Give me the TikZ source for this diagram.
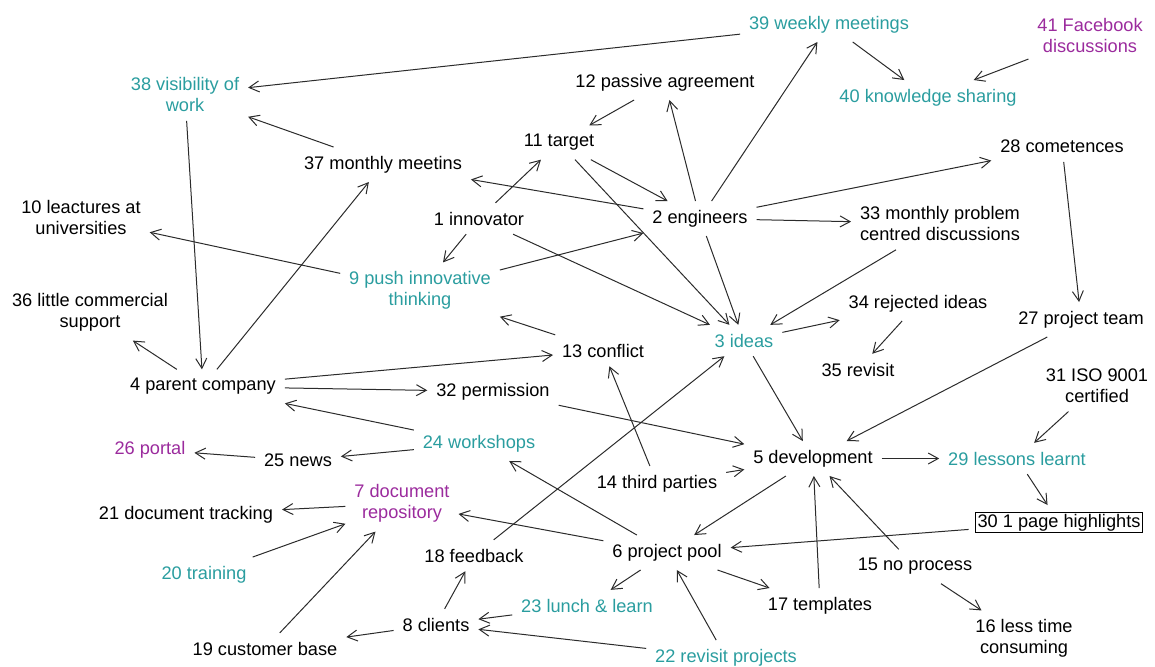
\documentclass[tikz,border=0pt]{standalone}
\usepackage{fontspec}
\setmainfont{Liberation Sans}
\usetikzlibrary{arrows.meta}
\definecolor{grpTeal}{HTML}{2A9D9F}
\definecolor{grpPurple}{HTML}{9B2B9D}
\definecolor{edgeline}{HTML}{2B2B2B}

\begin{document}
\begin{tikzpicture}[x=0.5pt,y=-0.5pt,font=\fontsize{9.1}{10.6}\selectfont,
concept/.style={text=#1,inner sep=1pt,outer sep=3.5pt,align=center},
concept/.default=black,
arrow/.style={-{Straight Barb[length=5pt,width=5.5pt]},line width=.5pt,draw=edgeline}]
\useasboundingbox (0,-2.5) rectangle (1155,663.5);
\node[concept=grpTeal] (n39) at (829,22) {39 weekly meetings};
\node[concept=grpPurple] (n41) at (1090,33) {41 Facebook\\discussions};
\node[concept=grpTeal] (n38) at (185,92) {38 visibility of\\work};
\node[concept] (n12) at (665,80) {12 passive agreement};
\node[concept=grpTeal] (n40) at (928,95) {40 knowledge sharing};
\node[concept] (n11) at (559,140) {11 target};
\node[concept] (n28) at (1062,144) {28 cometences};
\node[concept] (n37) at (383,162) {37 monthly meetins};
\node[concept] (n10) at (81,215) {10 leactures at\\universities};
\node[concept] (n1) at (479,216) {1 innovator};
\node[concept] (n2) at (700,216) {2 engineers};
\node[concept] (n33) at (940,221) {33 monthly problem\\centred discussions};
\node[concept=grpTeal] (n9) at (420,288) {9 push innovative\\thinking};
\node[concept] (n36) at (90,310) {36 little commercial\\support};
\node[concept] (n34) at (918,301) {34 rejected ideas};
\node[concept] (n27) at (1081,317) {27 project team};
\node[concept=grpTeal] (n3) at (744,338) {3 ideas};
\node[concept] (n13) at (603,348) {13 conflict};
\node[concept] (n35) at (858,367) {35 revisit};
\node[concept] (n31) at (1097,383) {31 ISO 9001\\certified};
\node[concept] (n4) at (203,384) {4 parent company};
\node[concept] (n32) at (493,389) {32 permission};
\node[concept=grpTeal] (n24) at (479,441) {24 workshops};
\node[concept=grpPurple] (n26) at (150,447) {26 portal};
\node[concept] (n25) at (298,458) {25 news};
\node[concept] (n5) at (813,456) {5 development};
\node[concept=grpTeal] (n29) at (1017,456) {29 lessons learnt};
\node[concept] (n14) at (657,481) {14 third parties};
\node[concept=grpPurple] (n7) at (402,501) {7 document\\repository};
\node[concept] (n21) at (186,512) {21 document tracking};
\node[concept,draw,line width=.5pt] (n30) at (1059,520) {30 1 page highlights};
\node[concept] (n18) at (474,553) {18 feedback};
\node[concept] (n6) at (667,550) {6 project pool};
\node[concept] (n15) at (915,564) {15 no process};
\node[concept=grpTeal] (n20) at (204,572) {20 training};
\node[concept=grpTeal] (n23) at (587,603) {23 lunch \& learn};
\node[concept] (n17) at (820,603) {17 templates};
\node[concept] (n8) at (436,622) {8 clients};
\node[concept] (n19) at (265,646) {19 customer base};
\node[concept=grpTeal] (n22) at (726,655) {22 revisit projects};
\node[concept] (n16) at (1024,636) {16 less time\\consuming};
% top part
\draw[arrow] (n39)--(n38);
\draw[arrow] (n39)--(n40);
\draw[arrow] (n41)--(n40);
\draw[arrow] (n2)--(n39);
\draw[arrow] (n12)--(n11);
\draw[arrow] (n2)--(n12);
\draw[arrow] (n11)--(n2);
\draw[arrow] (n11)--(n3);
\draw[arrow] (n1)--(n3);
\draw[arrow] (n2)--(n3);
\draw[arrow] (n2)--(n37);
\draw[arrow] (n1)--(n11);
\draw[arrow] (n1)--(n9);
\draw[arrow] (n9)--(n2);
\draw[arrow] (n9)--(n10);
\draw[arrow] (n2)--(n28);
\draw[arrow] (n2)--(n33);
\draw[arrow] (n33)--(n3);
\draw[arrow] (n3)--(n34);
\draw[arrow] (n34)--(n35);
\draw[arrow] (n28)--(n27);
\draw[arrow] (n37)--(n38);
\draw[arrow] (n38)--(n4);
\draw[arrow] (n4)--(n37);
\draw[arrow] (n4)--(n36);
% middle
\draw[arrow] (n27)--(n5);
\draw[arrow] (n31)--(n29);
\draw[arrow] (n3)--(n5);
\draw[arrow] (n5)--(n29);
\draw[arrow] (n29)--(n30);
\draw[arrow] (n14)--(n13);
\draw[arrow] (n14)--(n5);
\draw[arrow] (n32)--(n5);
\draw[arrow] (n4)--(n32);
\draw[arrow] (n4)--(n13);
\draw[arrow] (n13)--(n9);
\draw[arrow] (n24)--(n4);
\draw[arrow] (n24)--(n25);
\draw[arrow] (n25)--(n26);
% bottom part
\draw[arrow] (n30)--(n6);
\draw[arrow] (n17)--(n5);
\draw[arrow] (n15)--(n5);
\draw[arrow] (n15)--(n16);
\draw[arrow] (n5)--(n6);
\draw[arrow] (n6)--(n17);
\draw[arrow] (n6)--(n23);
\draw[arrow] (n22)--(n6);
\draw[arrow] (n22)--(n8);
\draw[arrow] (n23)--(n8);
\draw[arrow] (n8)--(n18);
\draw[arrow] (n8)--(n19);
\draw[arrow] (n18)--(n3);
\draw[arrow] (n6)--(n7);
\draw[arrow] (n6)--(n24);
\draw[arrow] (n7)--(n21);
\draw[arrow] (n20)--(n7);
\draw[arrow] (n19)--(n7);
\end{tikzpicture}
\end{document}
